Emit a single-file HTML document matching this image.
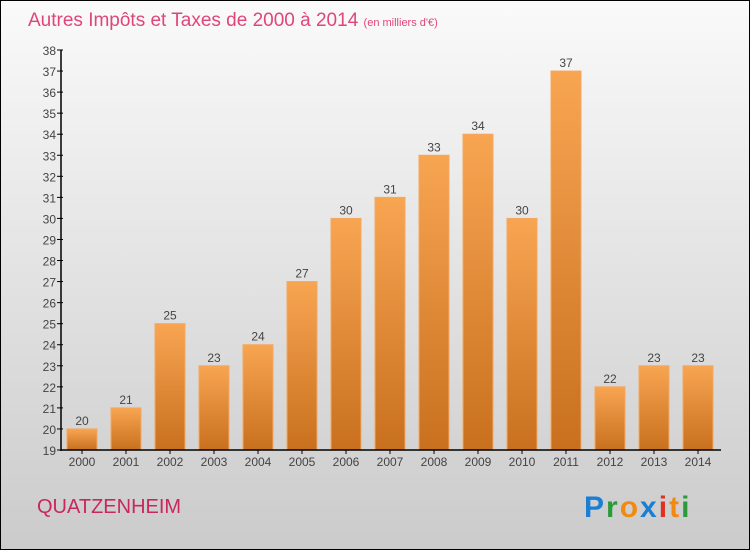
<!DOCTYPE html>
<html><head><meta charset="utf-8"><style>
body{margin:0}
#c{position:relative;width:748px;height:548px;border:1px solid #000;background:linear-gradient(#fafafa,#cbcbcb);font-family:"Liberation Sans",sans-serif;overflow:hidden}
</style></head><body>
<div id="c">
<svg id="s" width="748" height="548" style="position:absolute;left:0;top:0">
<defs><linearGradient id="g" x1="0" y1="0" x2="0" y2="1"><stop offset="0" stop-color="#f8a552"/><stop offset="1" stop-color="#c8701e"/></linearGradient></defs>
<text x="27" y="25" font-size="19" fill="#e0457a">Autres Impôts et Taxes de 2000 à 2014 <tspan font-size="11">(en milliers d'€)</tspan></text>
<text x="36" y="512" font-size="20" fill="#c8285e">QUATZENHEIM</text>
<text x="583" y="516" font-size="30" font-weight="bold" letter-spacing="2"><tspan fill="#1a7fd4">P</tspan><tspan fill="#2a9a3a">r</tspan><tspan fill="#f28a12">o</tspan><tspan fill="#1a7fd4">x</tspan><tspan fill="#e03020">i</tspan><tspan fill="#f28a12">t</tspan><tspan fill="#2a9a3a">i</tspan></text>
<g id="plot"></g>
</svg>
</div>
<script>
const years=["2000","2001","2002","2003","2004","2005","2006","2007","2008","2009","2010","2011","2012","2013","2014"];
const values=[20,21,25,23,24,27,30,31,33,34,30,37,22,23,23];
const yTicks=[19,20,21,22,23,24,25,26,27,28,29,30,31,32,33,34,35,36,37,38];
const ns="http://www.w3.org/2000/svg",g=document.getElementById('plot');
const y0=449,yMin=19,yMax=38,yTop=49;
const ys=v=>y0-(v-yMin)*(y0-yTop)/(yMax-yMin);
const xs=i=>81+i*44;
function mk(t,a){const e=document.createElementNS(ns,t);for(const k in a)e.setAttribute(k,a[k]);g.appendChild(e);return e;}
values.forEach((v,i)=>{
 const r=mk('rect',{x:xs(i)-15,y:ys(v),width:30,height:y0-ys(v),fill:'url(#g)',stroke:'#f5a860','stroke-width':1});
 
 
 const t=mk('text',{x:xs(i),y:ys(v)-4,'font-size':12,'text-anchor':'middle',fill:'#444'});t.textContent=v;
 
 
 const xl=mk('text',{x:xs(i),y:y0+16,'font-size':12,'text-anchor':'middle',fill:'#444'});xl.textContent=years[i];
 
 
 mk('line',{x1:xs(i),x2:xs(i),y1:y0,y2:y0+4,stroke:'#000'});
});
yTicks.forEach(v=>{
 mk('line',{x1:56,x2:62,y1:ys(v),y2:ys(v),stroke:'#000'});
 const t=mk('text',{x:55,y:ys(v)+5,'font-size':12,'text-anchor':'end',fill:'#444'});t.textContent=v;
 
 
});
const ya=mk('line',{x1:60,x2:60,y1:yTop,y2:y0+1,stroke:'#000','stroke-width':1.5});


const xa=mk('line',{x1:60,x2:720,y1:y0,y2:y0,stroke:'#000','stroke-width':1.5});


</script>
</body></html>
